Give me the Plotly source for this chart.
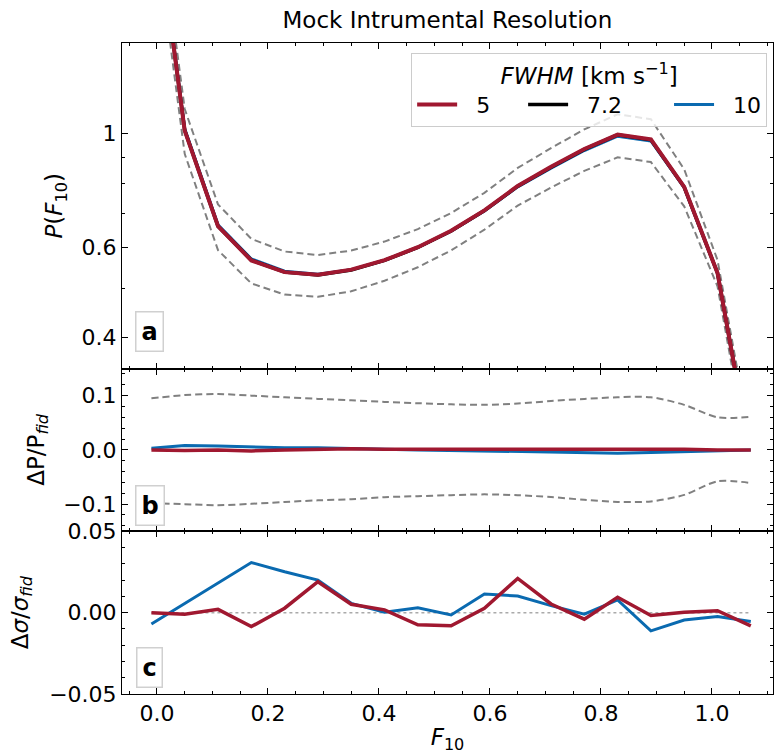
import plotly.graph_objects as go
from plotly.subplots import make_subplots

# ---------------- data ----------------
f10 = [-0.01, 0.05, 0.11, 0.17, 0.23, 0.29, 0.35, 0.41, 0.47, 0.53,
       0.59, 0.65, 0.71, 0.77, 0.83, 0.89, 0.95, 1.01, 1.07]

# fiducial PDF (FWHM = 7.2 km/s)
p_fid = [3.17, 1.015, 0.66, 0.567, 0.537, 0.530, 0.542, 0.566, 0.600, 0.646,
         0.708, 0.79, 0.86, 0.932, 0.995, 0.973, 0.787, 0.535, 0.234]

# relative 1-sigma error band (upper / lower)
err_up = [0.095, 0.101, 0.103, 0.100, 0.097, 0.094, 0.0915, 0.0884, 0.086, 0.084,
          0.083, 0.0855, 0.090, 0.094, 0.097, 0.097, 0.083, 0.060, 0.061]
err_lo = [-0.098, -0.100, -0.102, -0.0995, -0.096, -0.093, -0.091, -0.0872, -0.0853, -0.0835,
          -0.082, -0.0835, -0.087, -0.092, -0.096, -0.095, -0.083, -0.058, -0.061]

# Delta P / P_fid
dp_5 = [0.000, -0.001, 0.000, -0.002, 0.000, 0.001, 0.002, 0.001, 0.001, 0.001,
        0.001, 0.001, 0.002, 0.002, 0.001, 0.002, 0.001, 0.000, 0.000]
dp_10 = [0.003, 0.008, 0.007, 0.005, 0.004, 0.004, 0.002, 0.001, 0.000, -0.001,
         -0.002, -0.003, -0.004, -0.005, -0.006, -0.005, -0.003, -0.001, 0.000]

# Delta sigma / sigma_fid
ds_5 = [0.000, -0.001, 0.002, -0.0086, 0.0027, 0.019, 0.0051, 0.0017, -0.0075, -0.0081,
        0.0027, 0.021, 0.0053, -0.004, 0.0094, -0.0018, 0.0002, 0.0012, -0.0081]
ds_10 = [-0.007, 0.0057, 0.0186, 0.0308, 0.0251, 0.020, 0.0057, 0.0003, 0.003, -0.0014,
         0.0114, 0.0102, 0.0043, -0.001, 0.0078, -0.0112, -0.0045, -0.0024, -0.0055]

labels = ["5", "7.2", "10"]
# ---------------------------------------

RED = "#a01830"
BLUE = "#0a6ab0"
BLACK = "#000000"
GREY = "#808080"
FONT = "DejaVu Sans"
NB = "\u00a0"

p_up = [p * (1 + e) for p, e in zip(p_fid, err_up)]
p_lo = [p * (1 + e) for p, e in zip(p_fid, err_lo)]
p_5 = [p * (1 + d) for p, d in zip(p_fid, dp_5)]
p_10 = [p * (1 + d) for p, d in zip(p_fid, dp_10)]

fig = make_subplots(rows=3, cols=1, shared_xaxes=True, vertical_spacing=0,
                    row_heights=[0.5, 0.25, 0.25])

dash = "7px,4px"
# ---- panel a ----
for yy in (p_up, p_lo):
    fig.add_trace(go.Scatter(x=f10, y=yy, mode="lines", showlegend=False,
                             line=dict(color=GREY, width=2, dash=dash)), row=1, col=1)
fig.add_trace(go.Scatter(x=f10, y=p_10, mode="lines", name=NB * 2 + labels[2], legendrank=3,
                         line=dict(color=BLUE, width=3)), row=1, col=1)
fig.add_trace(go.Scatter(x=f10, y=p_fid, mode="lines", name=NB * 2 + labels[1] + NB * 6,
                         legendrank=2, line=dict(color=BLACK, width=3.5)), row=1, col=1)
fig.add_trace(go.Scatter(x=f10, y=p_5, mode="lines", name=NB * 2 + labels[0] + NB * 4,
                         legendrank=1, line=dict(color=RED, width=4)), row=1, col=1)

# ---- panel b ----
for yy in (err_up, err_lo):
    fig.add_trace(go.Scatter(x=f10, y=yy, mode="lines", showlegend=False,
                             line=dict(color=GREY, width=2, dash=dash, shape="spline", smoothing=0.8)),
                  row=2, col=1)
fig.add_trace(go.Scatter(x=f10, y=dp_10, mode="lines", showlegend=False,
                         line=dict(color=BLUE, width=3)), row=2, col=1)
fig.add_trace(go.Scatter(x=f10, y=dp_5, mode="lines", showlegend=False,
                         line=dict(color=RED, width=3.5)), row=2, col=1)

# ---- panel c ----
fig.add_trace(go.Scatter(x=f10, y=[0] * len(f10), mode="lines", showlegend=False,
                         line=dict(color="#aaaaaa", width=1.5, dash="dot")), row=3, col=1)
fig.add_trace(go.Scatter(x=f10, y=ds_10, mode="lines", showlegend=False,
                         line=dict(color=BLUE, width=3)), row=3, col=1)
fig.add_trace(go.Scatter(x=f10, y=ds_5, mode="lines", showlegend=False,
                         line=dict(color=RED, width=3.5)), row=3, col=1)

tickfont = dict(family=FONT, size=22, color="black")
titlefont = dict(family=FONT, size=23, color="black")
common = dict(showline=True, linecolor="black", linewidth=1, mirror="ticks",
              ticks="inside", ticklen=6, tickwidth=1, tickcolor="black",
              showgrid=False, zeroline=False, tickfont=tickfont, automargin=False)

xminor = dict(ticks="inside", ticklen=3, tickwidth=1, tickcolor="black", dtick=0.05, tick0=0)
for r in (1, 2, 3):
    fig.update_xaxes(range=[-0.063, 1.11], tickmode="linear", tick0=0, dtick=0.2,
                     tickformat=".1f", minor=xminor, row=r, col=1, **common)
fig.update_xaxes(title=dict(text="<i>F</i><sub>10</sub>", font=titlefont, standoff=4),
                 row=3, col=1)

fig.update_yaxes(type="log", range=[-0.458, 0.177], tickmode="array",
                 tickvals=[0.4, 0.6, 1], ticktext=["0.4", "0.6", "1"],
                 minor=dict(ticks="inside", ticklen=3, tickwidth=1, tickcolor="black",
                            tickmode="array", tickvals=[0.5, 0.7, 0.8, 0.9, 1.5]),
                 title=dict(text="<i>P</i>(<i>F</i><sub>10</sub>)", font=titlefont, standoff=12),
                 row=1, col=1, **common)
fig.update_yaxes(range=[-0.15, 0.15], tickmode="array", tickvals=[-0.1, 0.0, 0.1],
                 ticktext=["\u22120.1", "0.0", "0.1"],
                 minor=dict(ticks="inside", ticklen=3, tickwidth=1, tickcolor="black",
                            dtick=0.02, tick0=0),
                 title=dict(text="\u0394P/P<sub><i>fid</i></sub>", font=titlefont, standoff=12),
                 row=2, col=1, **common)
fig.update_yaxes(range=[-0.05, 0.05], tickmode="array", tickvals=[-0.05, 0.0, 0.05],
                 ticktext=["\u22120.05", "0.00", "0.05"],
                 minor=dict(ticks="inside", ticklen=3, tickwidth=1, tickcolor="black",
                            dtick=0.01, tick0=0),
                 title=dict(text="\u0394<i>\u03c3</i>/<i>\u03c3</i><sub><i>fid</i></sub>",
                            font=titlefont, standoff=14),
                 row=3, col=1, **common)

# panel letters
for txt, xr, yr, ypos in (("a", "x domain", "y domain", 0.114),
                          ("b", "x2 domain", "y2 domain", 0.16),
                          ("c", "x3 domain", "y3 domain", 0.16)):
    fig.add_annotation(text="<b>%s</b>" % txt, xref=xr, yref=yr, x=0.043, y=ypos,
                       xanchor="center", yanchor="middle",
                       showarrow=False, font=dict(family=FONT, size=24, color="black"),
                       bgcolor="white", bordercolor="#d0d0d0", borderwidth=1.5, borderpad=5)

fig.update_layout(
    width=774, height=754,
    margin=dict(l=122, r=1, t=43, b=60, autoexpand=False),
    paper_bgcolor="white", plot_bgcolor="white",
    font=dict(family=FONT, size=22, color="black"),
    title=dict(text="Mock Intrumental Resolution", x=0.578, xanchor="center",
               y=0.974, yanchor="middle", font=dict(family=FONT, size=23)),
    legend=dict(orientation="h", x=0.991, xanchor="right", y=0.985, yanchor="top",
                bgcolor="rgba(255,255,255,0.8)", bordercolor="#cccccc", borderwidth=1,
                font=dict(family=FONT, size=22),
                title=dict(text="<i>FWHM</i> [km s<sup>\u22121</sup>]", side="top center",
                           font=dict(family=FONT, size=23)),
                itemwidth=40, traceorder="normal"),
)

fig.write_html("out.html", config={"displayModeBar": False},
               post_script="document.body.style.margin='0';document.body.style.padding='0';")
